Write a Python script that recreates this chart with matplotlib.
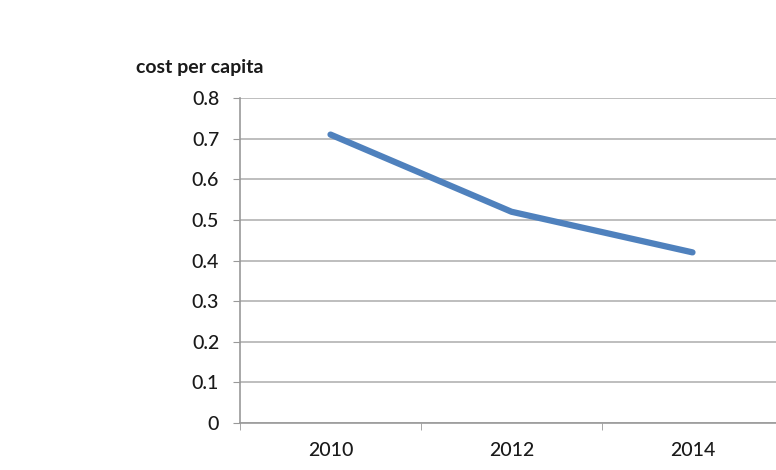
import matplotlib.pyplot as plt

years = ["2010", "2012", "2014"]
cost = [0.71, 0.52, 0.42]
y_ticks = [0, 0.1, 0.2, 0.3, 0.4, 0.5, 0.6, 0.7, 0.8]

plt.rcParams['font.family'] = ['Lato', 'DejaVu Sans']

fig = plt.figure(figsize=(7.76, 4.70), dpi=100)
# plot area runs past the right edge, like the cropped original
ax = fig.add_axes([240 / 776, 47 / 470, 543 / 776, 325 / 470])

x = list(range(len(years)))
ax.plot(x, cost, color="#4F81BD", linewidth=4.5, solid_capstyle="round",
        solid_joinstyle="round", zorder=3)

ax.set_xlim(-0.5, len(years) - 0.5)
ax.set_ylim(0, 0.8)
ax.set_yticks(y_ticks)
ax.set_yticklabels([f"{v:g}" for v in y_ticks])
ax.set_xticks(x)
ax.set_xticklabels(years)
ax.set_xticks([i - 0.5 for i in range(len(years) + 1)], minor=True)

ax.grid(axis="y", color="#b3b3b3", linewidth=1.2)
ax.set_axisbelow(True)
for side in ["top", "right"]:
    ax.spines[side].set_visible(False)
for side in ["left", "bottom"]:
    ax.spines[side].set_color("#999999")
    ax.spines[side].set_linewidth(1.2)

ax.tick_params(axis="y", length=5, color="#999999", labelsize=14,
               labelcolor="#1a1a1a", pad=10)
ax.tick_params(axis="x", which="major", length=0, labelsize=14,
               labelcolor="#1a1a1a", pad=14)
ax.tick_params(axis="x", which="minor", length=5, color="#999999")
for lbl in ax.get_xticklabels() + ax.get_yticklabels():
    lbl.set_fontweight("medium")

fig.text(136 / 776, 1 - 68 / 470, "cost per capita", fontsize=14,
         fontweight="bold", color="#1a1a1a", va="center", ha="left")

fig.savefig("out.png", dpi=100)
